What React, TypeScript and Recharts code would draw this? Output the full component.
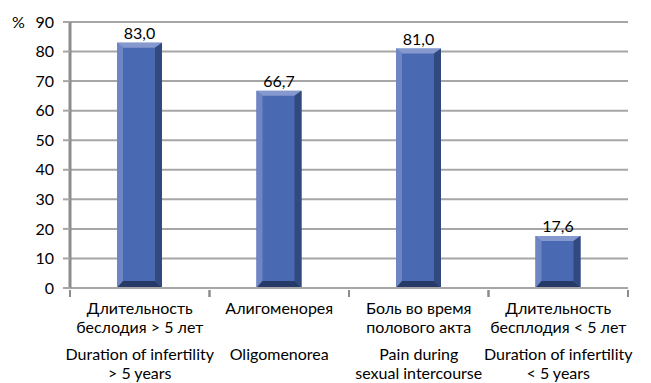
import { Bar, BarChart, CartesianGrid, LabelList, XAxis, YAxis } from "recharts"

const ruLabels = [
  ["Длительность", "беслодия > 5 лет"],
  ["Алигоменорея"],
  ["Боль во время", "полового акта"],
  ["Длительность", "бесплодия < 5 лет"],
]
const enLabels = [
  ["Duration of infertility", "> 5 years"],
  ["Oligomenorea"],
  ["Pain during", "sexual intercourse"],
  ["Duration of infertility", "< 5 years"],
]
const values = [83.0, 66.7, 81.0, 17.6]
const yTicks = [0, 10, 20, 30, 40, 50, 60, 70, 80, 90]

const data = values.map((v, i) => ({ name: "c" + i, idx: i, value: v }))

const W = 651
const H = 383
const M = { top: 22, right: 23, bottom: 0, left: 0 }
const X_AXIS_H = 95
const Y_AXIS_W = 70
const BAND = (W - M.left - M.right - Y_AXIS_W) / values.length
const FONT = "Lato, 'Noto Sans', sans-serif"

function BevelBar(props: any) {
  const { x, y, width, height } = props
  if (!height || height <= 0) return null
  const bl = 6, br = 7, bt = 5, bb = 7
  const x2 = x + width
  const y2 = y + height
  return (
    <g>
      <rect x={x} y={y} width={width} height={height} fill="#4A69B3" />
      <polygon points={`${x},${y} ${x2},${y} ${x2 - br},${y + bt} ${x + bl},${y + bt}`} fill="#8699CF" />
      <polygon points={`${x},${y} ${x + bl},${y + bt} ${x + bl},${y2 - bb} ${x},${y2}`} fill="#6F86C4" />
      <polygon points={`${x2},${y} ${x2},${y2} ${x2 - br},${y2 - bb} ${x2 - br},${y + bt}`} fill="#32497F" />
      <polygon points={`${x},${y2} ${x + bl},${y2 - bb} ${x2 - br},${y2 - bb} ${x2},${y2}`} fill="#263A68" />
    </g>
  )
}

function CatTick(props: any) {
  const { x, y, payload } = props
  const i = payload.index
  const ru = ruLabels[i] || []
  const en = enLabels[i] || []
  const axisY = y
  return (
    <g>
      <line x1={x - BAND / 2} x2={x - BAND / 2} y1={axisY} y2={axisY + 7} stroke="#8C8C8C" strokeWidth={2} />
      <line x1={x + BAND / 2} x2={x + BAND / 2} y1={axisY} y2={axisY + 7} stroke="#8C8C8C" strokeWidth={2} />
      {ru.map((t, k) => (
        <text key={"r" + k} x={x} y={axisY + 24 + k * 19} textAnchor="middle" fontSize={16} fontFamily={FONT} fill="#000">
          {t}
        </text>
      ))}
      {en.map((t, k) => (
        <text key={"e" + k} x={x} y={axisY + 70 + k * 19} textAnchor="middle" fontSize={16} fontFamily={FONT} fill="#000">
          {t}
        </text>
      ))}
    </g>
  )
}

export default function App() {
  return (
    <div style={{ position: "absolute", left: 0, top: 0, width: W, height: H, background: "#fff" }}>
      <BarChart width={W} height={H} data={data} margin={M}>
        <CartesianGrid vertical={false} stroke="#A6A6A6" strokeWidth={2} />
        <XAxis
          dataKey="name"
          tick={<CatTick />}
          tickLine={false}
          tickSize={0}
          axisLine={{ stroke: "#A6A6A6", strokeWidth: 2 }}
          interval={0}
          height={X_AXIS_H}
        />
        <YAxis
          domain={[0, 90]}
          ticks={yTicks}
          interval={0}
          width={Y_AXIS_W}
          tickSize={7}
          tickMargin={9}
          tickLine={{ stroke: "#A6A6A6", strokeWidth: 2 }}
          axisLine={{ stroke: "#8C8C8C", strokeWidth: 3 }}
          tick={{ fontSize: 16, fontFamily: FONT, fill: "#000" }}
        />
        <Bar dataKey="value" barSize={45} shape={<BevelBar />} isAnimationActive={false}>
          <LabelList
            dataKey="value"
            position="top"
            offset={4}
            formatter={(v: any) => Number(v).toFixed(1).replace(".", ",")}
            style={{ fontSize: 16, fontFamily: FONT, fill: "#000" }}
          />
        </Bar>
        <text x={12} y={28} fontSize={16} fontFamily={FONT} fill="#000">%</text>
      </BarChart>
    </div>
  )
}
